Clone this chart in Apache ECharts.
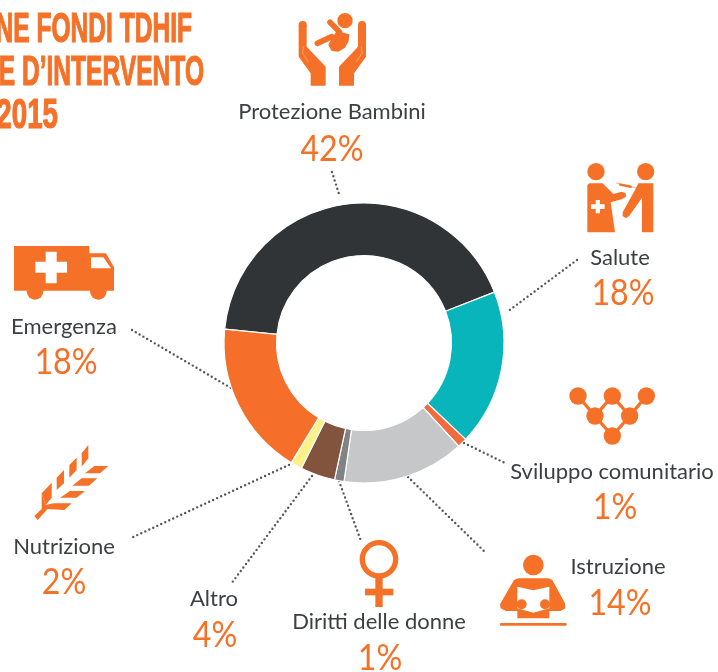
<!DOCTYPE html>
<html><head><meta charset="utf-8">
<style>html,body{margin:0;padding:0;background:#fff}#c{width:718px;height:672px}</style>
<script src="https://cdn.jsdelivr.net/npm/echarts@6/dist/echarts.min.js"></script>
</head><body><div id="c"></div>
<script>
const categories = ['Protezione Bambini','Salute','Sviluppo comunitario','Istruzione','Diritti delle donne','Altro','Nutrizione','Emergenza'];
const values = [42.5,18,1.1,14.1,1.1,4,1.3,17.9];
const percentLabels = ['42%','18%','1%','14%','1%','4%','2%','18%'];
const sliceColors = ['#303437','#07B5BA','#F26B3C','#C6C7C9','#808285','#83543D','#FBF18B','#F56F2A'];
const titleLines = ['NE FONDI TDHIF','E D\u2019INTERVENTO','2015'];

const ORANGE='#F47127', DARK='#3D4043', BODY='Lato, sans-serif';
const labelPos = [[332,119,332,162],[620,265,623,306],[612,479,615,520],[618,574,620,616],[379,629,380,671],[214,606,215,648],[64,554,64,595],[64,334,66,375]];
const leaders = [[[332,172],[339,194]],[[577,260],[507,312]],[[464,443],[505,463]],[[408,477],[485,552]],[[339,481],[361,541]],[[312,476],[231,584]],[[293,463],[131,538]],[[132,330],[231,388]]];
const titlePos = [[192,30],[204,73],[58,116]];
const titleScale = [0.585,0.585,0.66];

const g=[];
titleLines.forEach((t,i)=>g.push({type:'text',x:titlePos[i][0],y:titlePos[i][1],scaleX:titleScale[i],silent:true,
  style:{text:t,font:'bold 42px "Liberation Sans", sans-serif',fill:ORANGE,stroke:ORANGE,lineWidth:1.2,textAlign:'right',align:'right',textVerticalAlign:'middle',verticalAlign:'middle'}}));
categories.forEach((c,i)=>{
  const p=labelPos[i];
  g.push({type:'text',x:p[0],y:p[1]-7,silent:true,style:{text:c,font:'22px '+BODY,fill:DARK,textAlign:'center',align:'center',textVerticalAlign:'middle',verticalAlign:'middle'}});
  g.push({type:'text',x:p[2],y:p[3]-13,scaleX:0.87,silent:true,style:{text:percentLabels[i],font:'37px '+BODY,fill:ORANGE,textAlign:'center',align:'center',textVerticalAlign:'middle',verticalAlign:'middle'}});
});
leaders.forEach(l=>g.push({type:'line',silent:true,shape:{x1:l[0][0],y1:l[0][1],x2:l[1][0],y2:l[1][1]},style:{stroke:'#54575A',lineWidth:2.4,lineDash:[0,4.4],lineCap:'round'}}));

const poly=(pts,fill=ORANGE)=>({type:'polygon',silent:true,shape:{points:pts},style:{fill}});
const stroke=(pts,w,col=ORANGE,cap='round')=>({type:'polyline',silent:true,shape:{points:pts},style:{stroke:col,lineWidth:w,lineCap:cap,lineJoin:'round',fill:null}});
const circ=(x,y,r,fill=ORANGE)=>({type:'circle',silent:true,shape:{cx:x,cy:y,r},style:{fill}});
const ringc=(x,y,r,w)=>({type:'circle',silent:true,shape:{cx:x,cy:y,r},style:{fill:'none',stroke:ORANGE,lineWidth:w}});
const icon=(x,y,children)=>g.push({type:'group',x,y,scaleX:1/3,scaleY:1/3,silent:true,children});

// hands + baby (3x crop coordinates)
const hand=[[26,60],[50,60],[50,125],[107,185],[107,242],[62,242],[62,205],[26,155]];
icon(290,5,[
  poly(hand),circ(38,60,12),
  poly(hand.map(p=>[254-p[0],p[1]])),circ(216,60,12),
  stroke([[40,125],[38,145],[55,170]],1.5,'#FBD0B5'),
  stroke([[214,125],[216,145],[199,170]],1.5,'#FBD0B5'),
  circ(165,47,23),
  stroke([[120,52],[148,80]],17),
  stroke([[82,115],[125,95]],17),
  poly([[140,78],[178,88],[176,108],[165,128],[145,140],[125,138],[115,120],[125,100]])
]);
// doctor & patient
icon(580,155,[
  circ(48,50,26),circ(197,50,26),
  poly([[22,90],[28,85],[68,85],[100,117],[125,110],[137,115],[138,125],[125,133],[92,142],[105,232],[22,232]]),
  poly([[47,135],[60,135],[60,148],[74,148],[74,162],[60,162],[60,175],[47,175],[47,162],[33,162],[33,148],[47,148]],'#fff'),
  poly([[175,85],[220,85],[220,232],[186,232],[186,128],[148,182],[138,190],[128,183],[128,172],[165,105]]),
  stroke([[108,84],[170,99]],1.5,ORANGE,'butt'),
  stroke([[118,88],[155,96]],7,ORANGE,'butt')
]);
// network
const nodes=[[657,180],[760,180],[862,180],[708,240],[812,240],[760,300]];
icon(359,336,[
  stroke([[657,180],[708,240],[760,180],[812,240],[862,180]],10),
  stroke([[708,240],[760,300],[812,240]],10),
  ...nodes.map(n=>circ(n[0],n[1],26))
]);
// female symbol
icon(359,336,[
  ringc(60,670,50,16),
  {type:'rect',silent:true,shape:{x:49,y:725,width:22,height:88},style:{fill:ORANGE}},
  {type:'rect',silent:true,shape:{x:18,y:758,width:85,height:20},style:{fill:ORANGE}}
]);
// reader
icon(490,545,[
  circ(130,60,31),
  poly([[85,100],[175,100],[187,105],[225,175],[226,190],[212,198],[178,198],[178,220],[82,220],[82,198],[48,198],[32,190],[30,178],[72,105]]),
  poly([[82,125],[130,136],[178,125],[178,190],[130,203],[82,190]],'#fff'),
  circ(95,178,15),circ(165,178,15),
  {type:'rect',silent:true,shape:{x:30,y:234,width:200,height:8,r:3},style:{fill:ORANGE}}
]);
// ambulance
icon(0,0,[
  poly([[42,738],[268,738],[268,760],[318,760],[342,802],[342,872],[42,872]]),
  poly([[273,772],[310,772],[333,805],[273,805]],'#fff'),
  poly([[137,755],[170,755],[170,785],[201,785],[201,818],[170,818],[170,850],[137,850],[137,818],[106,818],[106,785],[137,785]],'#fff'),
  circ(105,874,25),circ(295,874,25)
]);
// wheat
icon(25,435,[
  poly([[190,30],[190,70],[170,95],[170,55]]),
  poly([[155,68],[155,105],[133,128],[133,90]]),
  poly([[117,105],[117,145],[95,165],[95,128]]),
  poly([[80,143],[80,188],[62,210],[50,175]]),
  poly([[250,93],[208,93],[180,115],[225,115]]),
  poly([[217,130],[170,130],[142,152],[192,152]]),
  poly([[180,168],[135,168],[105,188],[155,188]]),
  poly([[140,205],[85,205],[65,222],[118,225]]),
  poly([[50,175],[62,210],[85,205],[65,225],[38,255],[28,243],[50,222]])
]);

const chart=echarts.init(document.getElementById('c'),null,{renderer:'canvas'});
chart.setOption({
  animation:false,
  backgroundColor:'#fff',
  series:[{type:'pie',radius:[87.5,140],center:[364,343],startAngle:174.3,clockwise:true,silent:true,
    label:{show:false},labelLine:{show:false},
    itemStyle:{borderColor:'#fff',borderWidth:1.2},
    data:categories.map((n,i)=>({name:n,value:values[i],itemStyle:{color:sliceColors[i]}}))}],
  graphic:{elements:g}
});
</script></body></html>
